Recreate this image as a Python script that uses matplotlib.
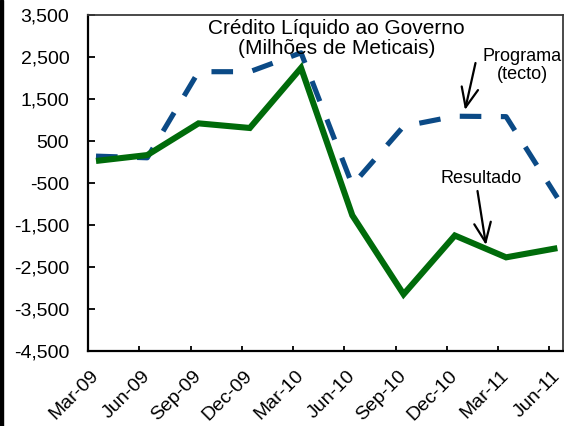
import matplotlib
matplotlib.use("Agg")
import matplotlib.pyplot as plt
from matplotlib.patches import Rectangle
from matplotlib.ticker import FuncFormatter, FixedLocator

categories = ["Mar-09", "Jun-09", "Sep-09", "Dec-09", "Mar-10", "Jun-10",
              "Sep-10", "Dec-10", "Mar-11", "Jun-11"]
programa = [140, 100, 2150, 2150, 2600, -550, 850, 1090, 1080, -850]
resultado = [25, 165, 920, 810, 2240, -1270, -3150, -1750, -2270, -2050]
yticks = [-4500, -3500, -2500, -1500, -500, 500, 1500, 2500, 3500]

plt.rcParams['font.family'] = ['Liberation Sans', 'DejaVu Sans']

fig = plt.figure(figsize=(5.64, 4.26), dpi=100)
W, H = 564, 426
ax = fig.add_axes([88 / W, (H - 351) / H, (562.5 - 88) / W, (351 - 15) / H])

x = list(range(len(categories)))
ax.plot(x, programa, color='#0b4a86', lw=3.7, linestyle=(0, (4.2, 3.8)),
        dash_capstyle='butt', solid_joinstyle='miter', zorder=3)
ax.plot(x, resultado, color='#006b0a', lw=4.4, solid_joinstyle='miter',
        solid_capstyle='butt', zorder=4)

ax.set_ylim(-4500, 3500)
ax.set_xlim(-0.156, 9.1)
ax.yaxis.set_major_locator(FixedLocator(yticks))
ax.yaxis.set_major_formatter(FuncFormatter(lambda v, p: f"{int(v):,}"))

ax.set_xticks(x)
ax.set_xticklabels(categories)
ax.set_xticks([k - 0.156 for k in range(1, 10)], minor=True)
ax.tick_params(axis='x', which='major', length=0, pad=16, labelsize=14)
ax.tick_params(axis='x', which='minor', direction='in', length=3.8, width=1.3)
ax.tick_params(axis='y', direction='in', length=5, width=1.3, pad=13.5, labelsize=14)
for lab in ax.get_xticklabels():
    lab.set_rotation(45)
    lab.set_ha('right')
    lab.set_va('center')
    lab.set_rotation_mode('anchor')

for s in ['left', 'bottom']:
    ax.spines[s].set_linewidth(1.6)
    ax.spines[s].set_color('black')
for s in ['top', 'right']:
    ax.spines[s].set_linewidth(1.3)
    ax.spines[s].set_color('#3a3a3a')

fig.text(336.5 / W, 1 - 19 / H, "Crédito Líquido ao Governo\n(Milhões de Meticais)",
         ha='center', va='top', fontsize=15, linespacing=1.05)

arrow_style = dict(arrowstyle='->,head_length=1.4,head_width=0.6', mutation_scale=10,
                   lw=1.6, color='black', shrinkA=0, shrinkB=0)
ax.annotate("", xy=(465 / W, 1 - 110 / H), xytext=(475.5 / W, 1 - 63 / H),
            xycoords='figure fraction', textcoords='figure fraction',
            arrowprops=arrow_style)
fig.text(522 / W, 1 - 48 / H, "Programa\n(tecto)", ha='center', va='top',
         fontsize=13, linespacing=1.05)

ax.annotate("", xy=(486 / W, 1 - 245 / H), xytext=(477.5 / W, 1 - 191 / H),
            xycoords='figure fraction', textcoords='figure fraction',
            arrowprops=arrow_style)
fig.text(481 / W, 1 - 170 / H, "Resultado", ha='center', va='top', fontsize=13)

fig.patches.append(Rectangle((0, 0), 3 / W, 1, transform=fig.transFigure,
                             color='black', zorder=10))

fig.savefig("out.png", dpi=100)
